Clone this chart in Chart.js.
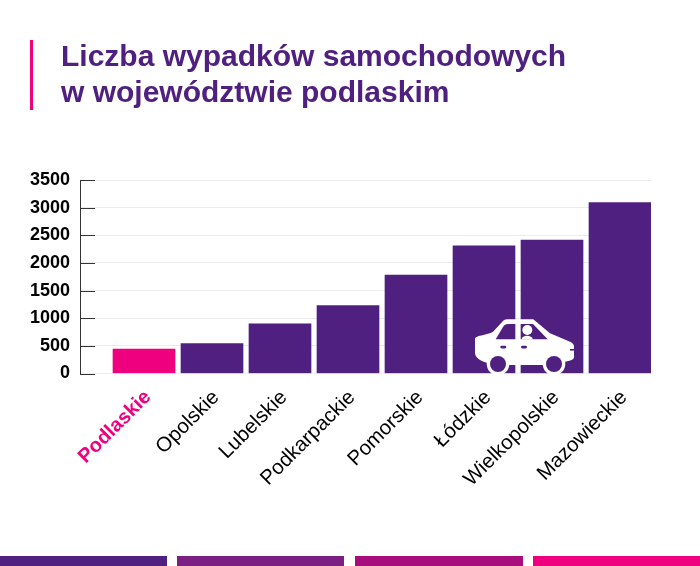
<!DOCTYPE html>
<html><head><meta charset="utf-8">
<style>
html,body{margin:0;padding:0;background:#fff;width:700px;height:566px;overflow:hidden;position:relative;font-family:"Liberation Sans",Arial,sans-serif}
#wrap{position:absolute;left:0;top:0;width:700px;height:566px}
#title{position:absolute;left:61px;top:38px;margin:0;font-size:30px;line-height:36px;font-weight:700;color:#4f2080;white-space:nowrap}
#rule{position:absolute;left:30px;top:40px;width:3px;height:70px;background:#ee007e}
.s{position:absolute;top:556px;height:10px}
#car{position:absolute;left:475px;top:319px;width:100px;height:55px}
</style></head><body>
<div id="wrap"><canvas id="c" width="700" height="566"></canvas></div>
<div id="rule"></div>
<h1 id="title">Liczba wypadków samochodowych<br>w województwie podlaskim</h1>
<div class="s" style="left:0;width:167px;background:#4f2080"></div>
<div class="s" style="left:177px;width:167px;background:#7b1f82"></div>
<div class="s" style="left:355px;width:168px;background:#a80d7e"></div>
<div class="s" style="left:533px;width:167px;background:#ee007e"></div>
<svg id="car" viewBox="0 0 100 55">
<defs><mask id="m" maskUnits="userSpaceOnUse" x="0" y="0" width="100" height="55"><rect width="100" height="55" fill="#fff"/>
<path fill="#000" d="M20.7 20.3 L28 8 C29.5 5.8 30.5 5 33 5 L58 5 L72.7 20.3Z"/>
<rect x="25.3" y="26.7" width="6" height="2.8" rx="1.4" fill="#000"/><rect x="46" y="26.7" width="6" height="2.8" rx="1.4" fill="#000"/>
<rect x="95" y="30" width="5" height="1.6" fill="#000"/>
<circle cx="23" cy="45" r="8" fill="#000"/><circle cx="79" cy="45" r="8" fill="#000"/></mask></defs>
<g mask="url(#m)" fill="#fff">
<path d="M0 20 C0 18 3 17 8.3 16 C12 15 16 14 18 12.7 L28 2 C29 1 30 .3 32 .3 L58.3 .3 L75 14.3 L95 22.7 C98 24 99 25.5 99 27.7 L99 38 C99 40 97 41.5 90 42.7 L68 46 L34 46 L11.7 43.7 C5 42 0 38 0 34Z"/>
<circle cx="23" cy="45" r="11.3"/><circle cx="79" cy="45" r="11.3"/></g>
<circle cx="52.3" cy="11" r="5" fill="#fff"/><path fill="#fff" d="M46.5 20.5 C47 15.5 57 15.5 58 20.5Z"/>
</svg>
<script src="https://cdn.jsdelivr.net/npm/chart.js@4/dist/chart.umd.min.js"></script>
<script>
const categories=["Podlaskie","Opolskie","Lubelskie","Podkarpackie","Pomorskie","Łódzkie","Wielkopolskie","Mazowieckie"];
const values=[440,540,900,1230,1780,2310,2415,3090];
const yTicks=[0,500,1000,1500,2000,2500,3000,3500];
const PURPLE="#4f2080",PINK="#ee007e";
const darkTicks={id:"darkTicks",afterDatasetsDraw(ch){
  const s=ch.scales.y,g=ch.ctx;g.save();g.strokeStyle="#333";g.lineWidth=1;
  yTicks.forEach(v=>{const p=Math.round(s.getPixelForValue(v))+.5;g.beginPath();g.moveTo(s.right,p);g.lineTo(s.right+15,p);g.stroke();});
  g.restore();}};
new Chart(document.getElementById("c"),{
  type:"bar",
  plugins:[darkTicks],
  data:{datasets:[{data:values.map((v,i)=>({x:i,y:v})),
    backgroundColor:values.map((v,i)=>i===0?PINK:PURPLE),
    barThickness:62,borderWidth:0}]},
  options:{responsive:false,animation:false,
    layout:{padding:{left:0,right:49,top:180,bottom:0}},
    plugins:{legend:{display:false},tooltip:{enabled:false},title:{display:false}},
    scales:{
      x:{type:"linear",offset:false,bounds:"data",min:-0.5-30/68,max:7.5-3/68,
        afterBuildTicks(a){a.ticks=categories.map((c,i)=>({value:i}));},
        afterFit(a){a.height=192.5;},
        grid:{display:false,drawTicks:false},border:{display:false},
        ticks:{autoSkip:false,maxRotation:45,minRotation:45,padding:12,labelOffset:4,
          callback:(v)=>categories[v],
          color:c=>c.index===0?PINK:"#000",
          font:c=>({family:"'Liberation Sans',Arial,sans-serif",size:c.index===0?20:20.5,weight:c.index===0?"bold":"normal"})}},
      y:{min:0,max:3500,
        afterBuildTicks(a){a.ticks=yTicks.map(v=>({value:v}));},
        afterFit(a){a.width=80;},
        grid:{color:"#ececec",lineWidth:1,drawTicks:false},
        border:{display:true,color:"#333",width:1},
        ticks:{padding:10,color:"#000",callback:v=>String(v),font:{family:"'Liberation Sans',Arial,sans-serif",size:18,weight:"bold"}}}
    }}
});
</script></body></html>
